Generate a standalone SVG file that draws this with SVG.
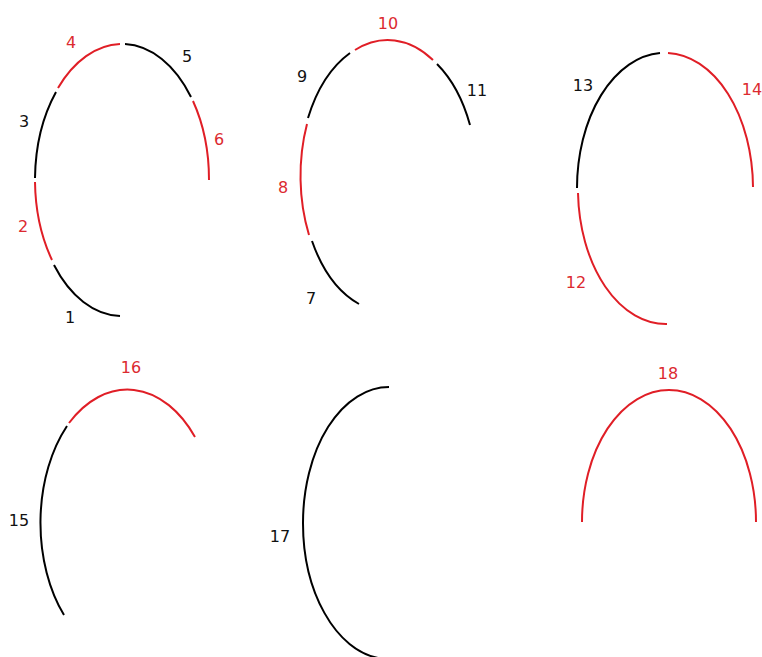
<svg xmlns="http://www.w3.org/2000/svg" width="762" height="657" viewBox="0 0 762 657">
<style>
.k{fill:none;stroke:#000;stroke-width:2}
.r{fill:none;stroke:#e01e26;stroke-width:2}
text{font-family:"DejaVu Sans",Verdana,sans-serif;font-size:16px;text-anchor:middle}
.tk{fill:#111}
.tr{fill:#dc2a30}
</style>
<rect width="762" height="657" fill="#fff"/>
<g id="fig1">
<path class="k" d="M120 316 A87 136 0 0 1 54 265"/>
<path class="r" d="M52 260 A87 136 0 0 1 35 182"/>
<path class="k" d="M35 178 A87 136 0 0 1 56 92"/>
<path class="r" d="M58 88 A87 136 0 0 1 120 44"/>
<path class="k" d="M125 44 A87 136 0 0 1 191 97"/>
<path class="r" d="M193 101 A87 136 0 0 1 209 180"/>
<text class="tr" x="71" y="48">4</text>
<text class="tk" x="187" y="62">5</text>
<text class="tk" x="24" y="127">3</text>
<text class="tr" x="219" y="145">6</text>
<text class="tr" x="23" y="232">2</text>
<text class="tk" x="70" y="323">1</text>
</g>
<g id="fig2">
<path class="k" d="M359 304 A87 137 0 0 1 312 241"/>
<path class="r" d="M309 235 A87 137 0 0 1 307 124"/>
<path class="k" d="M308 118 A87 137 0 0 1 350 53"/>
<path class="r" d="M355 50 A87 137 0 0 1 433 60"/>
<path class="k" d="M437 64 A87 137 0 0 1 470 125"/>
<text class="tr" x="388" y="29">10</text>
<text class="tk" x="302" y="82">9</text>
<text class="tk" x="477" y="96">11</text>
<text class="tr" x="283" y="193">8</text>
<text class="tk" x="311" y="304">7</text>
</g>
<g id="fig3">
<path class="r" d="M667 324 A88 135.5 0 0 1 578 193"/>
<path class="k" d="M577 188 A88 135.5 0 0 1 660 53"/>
<path class="r" d="M668 53 A88 135.5 0 0 1 753 187"/>
<text class="tk" x="583" y="91">13</text>
<text class="tr" x="752" y="95">14</text>
<text class="tr" x="576" y="288">12</text>
</g>
<g id="fig4">
<path class="k" d="M64 615 A89 136 0 0 1 67 426"/>
<path class="r" d="M69 423 A89 136 0 0 1 195 437"/>
<text class="tr" x="131" y="373">16</text>
<text class="tk" x="19" y="526">15</text>
</g>
<g id="fig5">
<path class="k" d="M389 387 A86 136 0 0 0 303 523 A86 136 0 0 0 378 658"/>
<text class="tk" x="280" y="542">17</text>
</g>
<g id="fig6">
<path class="r" d="M582 522 A87 132 0 0 1 669 390 A87 132 0 0 1 756 522"/>
<text class="tr" x="668" y="379">18</text>
</g>
<g id="connectors"/>
</svg>
